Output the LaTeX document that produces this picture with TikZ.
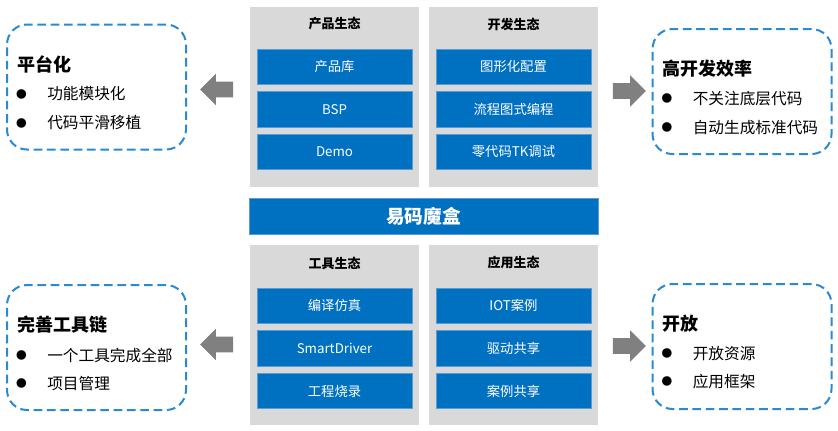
\documentclass[tikz,border=0pt]{standalone}
\usepackage{fontspec}
\setmainfont{Noto Sans CJK SC}
\usepackage{xcolor}
\usepackage{tikz}
\usetikzlibrary{positioning, calc, shapes.arrows}
\definecolor{ymblue}{HTML}{0070C0}
\definecolor{ymedge}{HTML}{5B9BD5}
\definecolor{ymdash}{HTML}{2A8AD0}
\definecolor{ymgray}{HTML}{D9D9D9}
\definecolor{ymarrow}{HTML}{808080}

\begin{document}
\begin{tikzpicture}[
  x=0.75pt, y=-0.75pt,
  panel/.style={
    rectangle, fill=ymgray, outer sep=0pt,
    minimum width=126.75pt, minimum height=135pt
  },
  paneltitle/.style={font=\fontsize{9.75}{12}\selectfont\bfseries, text=black},
  module/.style={
    rectangle, fill=ymblue, draw=ymedge, line width=0.4pt, outer sep=0pt,
    minimum width=116.25pt, minimum height=26.5pt,
    text=white, font=\fontsize{10}{12}\selectfont
  },
  core/.style={
    rectangle, fill=ymblue, draw=ymedge, line width=0.4pt, outer sep=0pt,
    minimum width=261.75pt, minimum height=27pt,
    text=white, font=\fontsize{14}{16}\selectfont\bfseries
  },
  infobox/.style={
    rectangle, rounded corners=15pt, draw=ymdash, line width=1.5pt,
    dash pattern=on 6.5pt off 3.5pt,
    minimum width=134.25pt, minimum height=93.75pt
  },
  boxhead/.style={anchor=west, inner sep=0pt, font=\fontsize{13.5}{16}\selectfont\bfseries},
  boxitem/.style={anchor=west, inner sep=0pt, font=\fontsize{11.75}{14}\selectfont},
  bulletdot/.style={inner sep=0pt, font=\fontsize{8}{8}\selectfont},
  bigarrow/.style={
    single arrow, fill=ymarrow, draw=none, inner xsep=0pt, inner ysep=5.625pt,
    single arrow head extend=6pt, single arrow tip angle=90,
    minimum height=24.75pt, minimum width=23.25pt
  },
]
\useasboundingbox (0,0) rectangle (838,430);

% Ecosystem panels
\node[panel] (prodpanel) at (334.5,97) {};
\node[panel] (devpanel) at (513.5,97) {};
\node[panel] (toolpanel) at (334.5,335) {};
\node[panel] (apppanel) at (513.5,335) {};

\node[paneltitle] (prodtitle) at ($(prodpanel.north)+(0,17)$) {产品生态};
\node[paneltitle] (devtitle) at ($(devpanel.north)+(0,17)$) {开发生态};
\node[paneltitle] (tooltitle) at ($(toolpanel.north)+(0,18)$) {工具生态};
\node[paneltitle] (apptitle) at ($(apppanel.north)+(0,18)$) {应用生态};

% Modules
\node[module, below=31.5pt of prodpanel.north] (prodlib) {产品库};
\node[module, below=5.5pt of prodlib] (prodbsp) {BSP};
\node[module, below=5.5pt of prodbsp] (proddemo) {Demo};

\node[module, below=31.5pt of devpanel.north] (devgui) {图形化配置};
\node[module, below=5.5pt of devgui] (devflow) {流程图式编程};
\node[module, below=5.5pt of devflow] (devzero) {零代码TK调试};

\node[module, below=32.25pt of toolpanel.north] (toolsim) {编译仿真};
\node[module, below=5.5pt of toolsim] (tooldrv) {SmartDriver};
\node[module, below=5.5pt of tooldrv] (toolburn) {工程烧录};

\node[module, below=32.25pt of apppanel.north] (appiot) {IOT案例};
\node[module, below=5.5pt of appiot] (appdrv) {驱动共享};
\node[module, below=5.5pt of appdrv] (appcase) {案例共享};

% Core bar
\node[core] (core) at (423.5,216) {易码魔盒};

% Feature boxes
\node[infobox] (platbox) at (96.5,87) {};
\node[boxhead] (plathead) at ($(platbox.west)+(11,-23)$) {平台化};
\node[bulletdot] at ($(plathead.west)+(4.5,30)$) {●};
\node[boxitem] (platitem1) at ($(plathead.west)+(30,30)$) {功能模块化};
\node[bulletdot] at ($(plathead.west)+(4.5,59)$) {●};
\node[boxitem] (platitem2) at ($(plathead.west)+(30,59)$) {代码平滑移植};

\node[infobox] (effbox) at (742,91.5) {};
\node[boxhead] (effhead) at ($(effbox.west)+(11,-23)$) {高开发效率};
\node[bulletdot] at ($(effhead.west)+(4.5,30)$) {●};
\node[boxitem] (effitem1) at ($(effhead.west)+(30,30)$) {不关注底层代码};
\node[bulletdot] at ($(effhead.west)+(4.5,59)$) {●};
\node[boxitem] (effitem2) at ($(effhead.west)+(30,59)$) {自动生成标准代码};

\node[infobox] (chainbox) at (96.5,347.5) {};
\node[boxhead] (chainhead) at ($(chainbox.west)+(11,-23)$) {完善工具链};
\node[bulletdot] at ($(chainhead.west)+(4.5,31)$) {●};
\node[boxitem] (chainitem1) at ($(chainhead.west)+(30,31)$) {一个工具完成全部};
\node[bulletdot] at ($(chainhead.west)+(4.5,59)$) {●};
\node[boxitem] (chainitem2) at ($(chainhead.west)+(30,59)$) {项目管理};

\node[infobox] (openbox) at (742,346.5) {};
\node[boxhead] (openhead) at ($(openbox.west)+(11,-23)$) {开放};
\node[bulletdot] at ($(openhead.west)+(4.5,30)$) {●};
\node[boxitem] (openitem1) at ($(openhead.west)+(30,30)$) {开放资源};
\node[bulletdot] at ($(openhead.west)+(4.5,58)$) {●};
\node[boxitem] (openitem2) at ($(openhead.west)+(30,58)$) {应用框架};

% Arrows
\node[bigarrow, shape border rotate=180] (platarrow) at (220.5,89.5) {};
\node[bigarrow] (effarrow) at (625.5,91) {};
\node[bigarrow, shape border rotate=180] (chainarrow) at (220.5,344.5) {};
\node[bigarrow] (openarrow) at (625.5,346) {};
\end{tikzpicture}
\end{document}
